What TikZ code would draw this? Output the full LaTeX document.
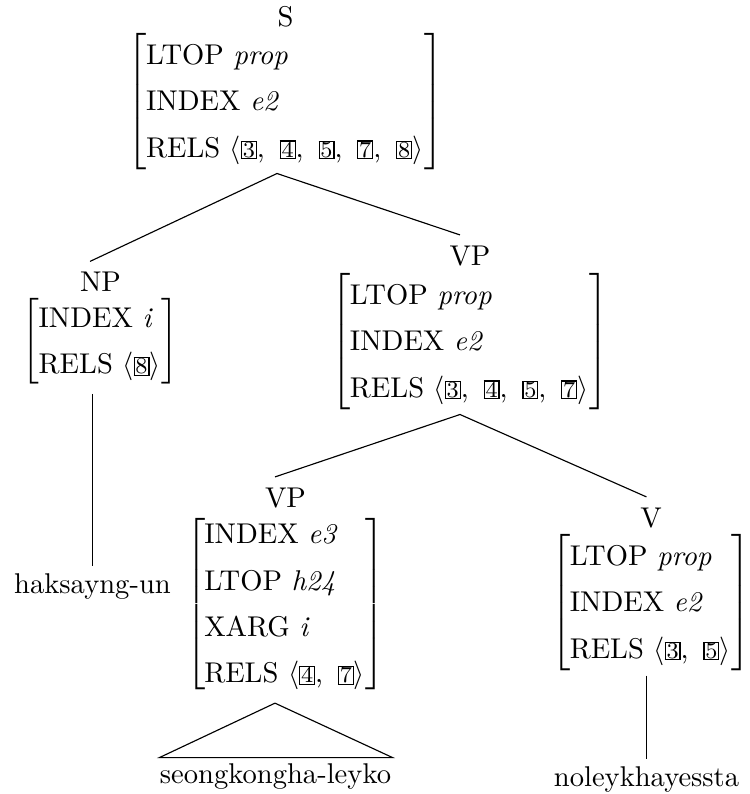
\documentclass[tikz,border=0pt]{standalone}
\usetikzlibrary{calc}
\newcommand{\tg}[1]{{\setlength{\fboxsep}{0pt}\setlength{\fboxrule}{0.4pt}\fbox{\makebox[4.8pt]{\rule[-0.4pt]{0pt}{5.3pt}\footnotesize #1}}}}
\newcommand{\sep}{,\hspace{5.2pt}}
\newcommand{\avmtab}[1]{$\left[\renewcommand{\arraystretch}{1.35}\begin{tabular}{@{\hspace{-0.3pt}}l@{\hspace{0.3pt}}}#1\end{tabular}\right]$}
\tikzset{
  lab/.style={inner sep=0pt, anchor=base},
  avm/.style={inner sep=0pt, anchor=center},
  leaf/.style={inner sep=0pt, anchor=base},
  edge/.style={line width=0.4pt}
}
\begin{document}
\begin{tikzpicture}[x=0.35pt, y=-0.35pt]
\useasboundingbox (0,0) rectangle (749,794);
% S
\node[lab] (sL) at (285.5,26) {S};
\node[avm] (sA) at (285.5,101.5) {\avmtab{LTOP \textit{prop}\\ INDEX \textit{e2}\\ RELS $\langle$\tg{3}\sep\tg{4}\sep\tg{5}\sep\tg{7}\sep\tg{8}$\rangle$}};
% NP
\node[lab] (npL) at (100.5,291.5) {NP};
\node[avm] (npA) at (100.5,341) {\avmtab{INDEX \textit{i}\\ RELS $\langle$\tg{8}$\rangle$}};
% VP
\node[lab] (vpL) at (470,265) {VP};
\node[avm] (vpA) at (470,341.5) {\avmtab{LTOP \textit{prop}\\ INDEX \textit{e2}\\ RELS $\langle$\tg{3}\sep\tg{4}\sep\tg{5}\sep\tg{7}$\rangle$}};
% lower VP
\node[lab] (vqL) at (285.5,507) {VP};
\node[avm] (vqA) at (285.5,604) {\avmtab{INDEX \textit{e3}\\ LTOP \textit{h24}\\ XARG \textit{i}\\ RELS $\langle$\tg{4}\sep\tg{7}$\rangle$}};
% V
\node[lab] (vL) at (651,527) {V};
\node[avm] (vA) at (651,602.5) {\avmtab{LTOP \textit{prop}\\ INDEX \textit{e2}\\ RELS $\langle$\tg{3}\sep\tg{5}$\rangle$}};
% leaves
\node[leaf] (hak) at (92.5,593) {haksayng-un};
\node[leaf] (seo) at (275.5,783) {seongkongha-leyko};
\node[leaf] (nol) at (646.5,786) {noleykhayessta};
% connector ends
\coordinate (sB) at ($(sA.south)+(-8.5,2)$);
\coordinate (npT) at ($(npL.north)+(-10.5,-10)$);
\coordinate (vpT) at ($(vpL.north)+(-10,-10)$);
\coordinate (vpB) at ($(vpA.south)+(-10,3)$);
\coordinate (vqT) at ($(vqL.north)+(-10.5,-10)$);
\coordinate (vT) at ($(vL.north)+(-4.5,-10)$);
\coordinate (npB) at ($(npA.south)+(-8,6)$);
\coordinate (hakT) at ($(hak.north)+(0,-6.5)$);
\coordinate (vqB) at ($(vqA.south)+(-10.5,6)$);
\coordinate (vB) at ($(vA.south)+(-4.5,3)$);
\coordinate (nolT) at ($(nol.north)+(0,-6.5)$);
\coordinate (triL) at ($(seo.north west)+(0,-5)$);
\coordinate (triR) at ($(seo.north east)+(1,-5)$);
% connectors
\draw[edge] (npT) -- (sB) -- (vpT);
\draw[edge] (vqT) -- (vpB) -- (vT);
\draw[edge] (npB) -- (hakT);
\draw[edge] (vB) -- (nolT);
\draw[edge] (triL) -- (vqB) -- (triR) -- cycle;
\end{tikzpicture}
\end{document}
